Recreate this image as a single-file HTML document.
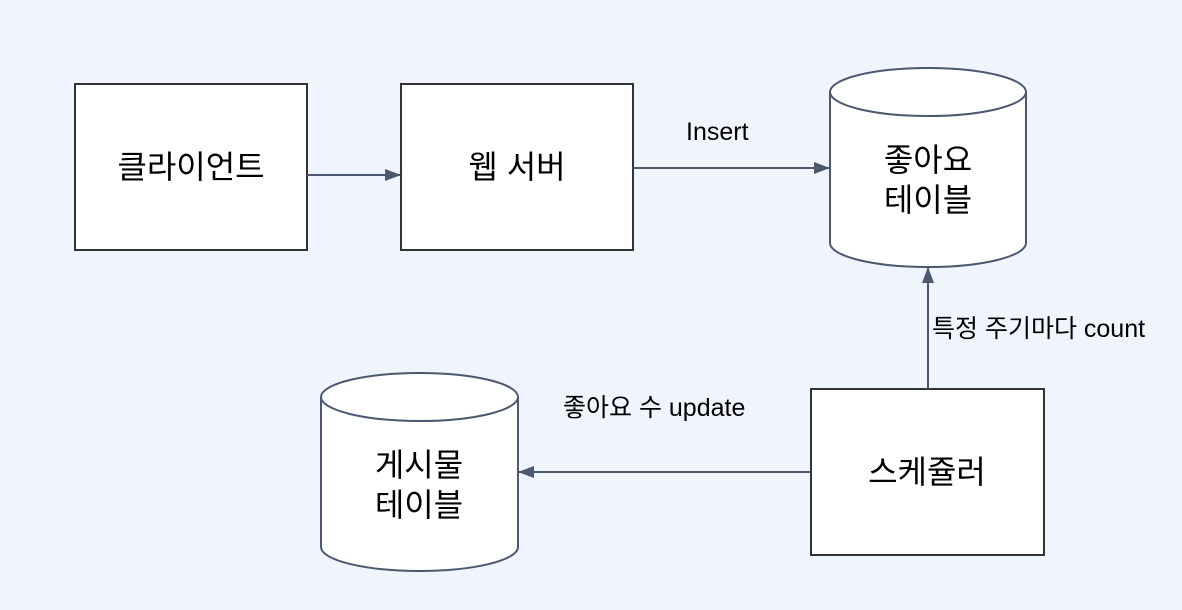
<!DOCTYPE html>
<html><head><meta charset="utf-8"><style>
html,body{margin:0;padding:0;background:#eff4fd;}
</style></head><body>
<svg width="1182" height="610" xmlns="http://www.w3.org/2000/svg" style="display:block;font-family:'Liberation Sans','Noto Sans CJK KR',sans-serif;">
<rect width="1182" height="610" fill="#eff4fd"/>
<defs><marker id="a" markerWidth="16" markerHeight="12" refX="15" refY="6" orient="auto" markerUnits="userSpaceOnUse"><path d="M0,0 L16,6 L0,12 Z" fill="#4a5870"/></marker></defs>
<g stroke="#333" stroke-width="2" fill="#fff">
<rect x="75" y="84" width="232" height="166"/>
<rect x="401" y="84" width="232" height="166"/>
<rect x="811" y="389" width="233" height="166"/>
</g>
<g stroke="#4a5870" stroke-width="2" fill="#fff">
<path d="M830,92 L830,243 A98,24 0 0 0 1026,243 L1026,92"/>
<ellipse cx="928" cy="92" rx="98" ry="24"/>
<path d="M321,397 L321,547 A98.5,24 0 0 0 518,547 L518,397"/>
<ellipse cx="419.5" cy="397" rx="98.5" ry="24"/>
</g>
<g stroke="#4a5870" stroke-width="2" fill="none">
<line x1="307" y1="175" x2="400" y2="175" marker-end="url(#a)"/>
<line x1="633" y1="168" x2="829" y2="168" marker-end="url(#a)"/>
<line x1="928" y1="389" x2="928" y2="268" marker-end="url(#a)"/>
<line x1="811" y1="472" x2="519" y2="472" marker-end="url(#a)"/>
</g>
<g fill="#000" font-size="32" text-anchor="middle">
<text x="191" y="178">클라이언트</text>
<text x="517" y="178">웹 서버</text>
<text x="928" y="171">좋아요</text>
<text x="928" y="211">테이블</text>
<text x="419" y="476">게시물</text>
<text x="419" y="516">테이블</text>
<text x="927" y="483">스케쥴러</text>
</g>
<g fill="#000" font-size="25">
<text x="686" y="140">Insert</text>
<text x="932" y="337">특정 주기마다 count</text>
<text x="563" y="416">좋아요 수 update</text>
</g>
</svg>
</body></html>
